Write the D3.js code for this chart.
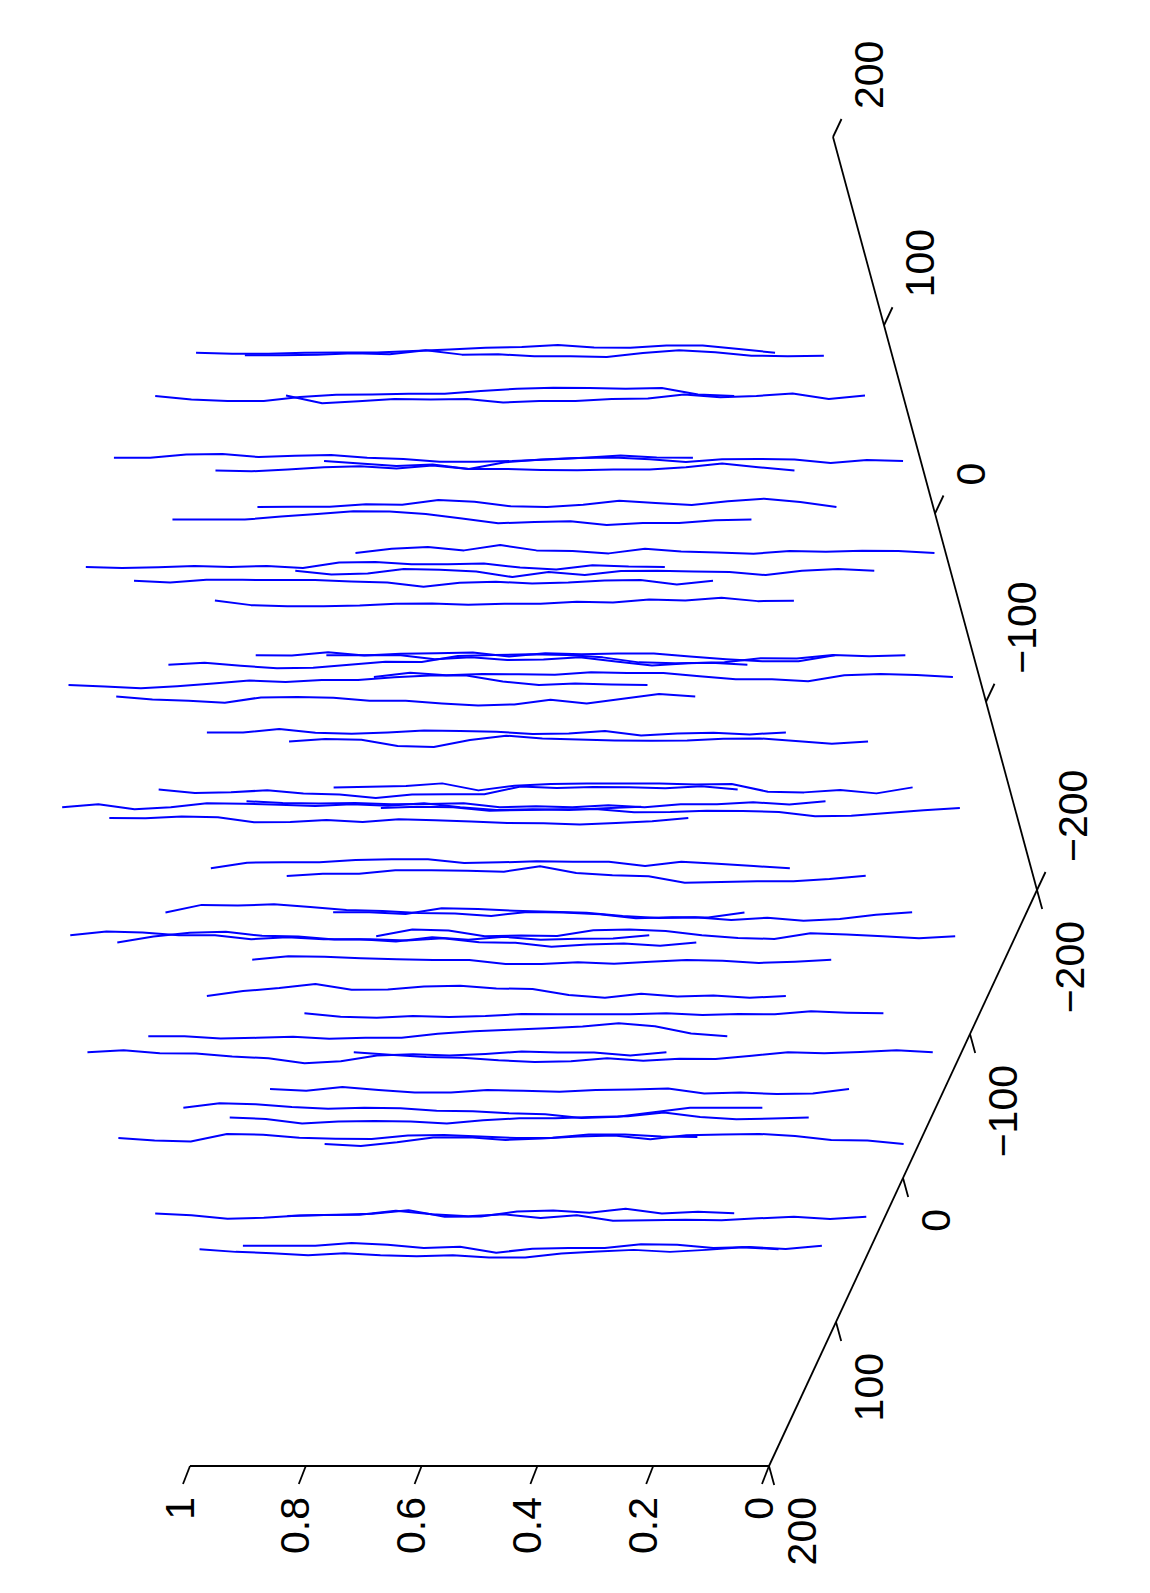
<!DOCTYPE html>
<html>
<head>
<meta charset="utf-8">
<script src="https://cdn.jsdelivr.net/npm/d3@7"></script>
<style>html,body{margin:0;padding:0;background:#fff}svg{display:block}</style>
</head>
<body>
<svg id="chart" width="1150" height="1593"></svg>
<script>
// Height levels shared by every trace (left end of the drawn line = 1, right end = 0)
const zLevels = [1,0.9375,0.875,0.8125,0.75,0.6875,0.625,0.5625,0.5,0.4375,0.375,0.3125,0.25,0.1875,0.125,0.0625,0];
// Ground position of each trace
const traceA = [-90.2,-135.5,-40.6,-164.1,14.1,-78.4,-183.3,-108.7,-25.3,-189.4,68.5,-128.1,26.6,-44.6,-69.2,-135.8,15.6,115,-175.1,72.9,-3.4,-78.6,-108.9,56.7,152.1,-23.2,-148.2,110.5,27.6,-42.1,81.7,-76.5,177.3,134.8,-111,11.9,64,-23.6,129.5,191,-60.2,28.2,114.7,73.5,183.5,-9.3,168.2,44.5,93.8,135.6];
const traceB = [169.4,133.2,184.3,90.1,193.4,115.8,40.7,73.3,130.4,-12.9,177,24.6,137.6,72.5,24.8,-26.2,84.6,149.9,-67.8,111.6,34.1,-28.2,-75.8,49.7,113.6,-17.6,-116.8,75.8,-14.4,-71.6,3.5,-117.4,64.6,28.2,-156.5,-74.9,-54.4,-130.6,-25.6,12.9,-179.3,-131.2,-74.9,-111.7,-37.9,-189,-90,-186.5,-164.2,-134.1];
// Sideways drift of each trace at every height level
const traceSway = [
[0,3,3,0,-1,-1,-5,-10,-15,-17,-23,-16,-15,-22,-22,-11,0],
[-1,-1,-3,-7,-4,-16,-3,-4,2,2,4,-8,-16,-10,0,2,0],
[0,10,15,15,3,-4,-5,-7,-7,-15,-22,-25,-24,-22,-24,-5,0],
[0,23,17,10,12,10,21,16,16,10,9,-3,5,1,-6,10,0],
[0,0,-10,-11,-2,-6,-8,0,4,12,12,10,5,0,-7,-1,0],
[0,2,-3,-10,-13,-6,-15,-5,-5,-2,-1,-3,-3,-10,-21,-10,0],
[0,8,15,11,24,4,-4,-9,-10,-5,3,-5,-6,-4,6,-3,0],
[0,-1,-1,-8,-7,-21,-16,-2,0,-7,-19,-12,-6,-17,-25,-15,0],
[0,0,0,-9,-17,-25,-24,-17,-3,11,7,5,16,10,10,2,0],
[0,-13,-18,-8,-24,-8,-6,1,-13,-5,-2,2,-6,-4,-7,-6,0],
[0,3,1,-3,0,-3,3,-13,-15,-8,-8,-10,2,8,-5,-1,0],
[0,11,8,-5,-3,2,19,4,13,1,0,2,4,13,0,-5,0],
[0,5,-3,-3,-2,-2,2,5,18,6,3,8,5,-1,-2,11,0],
[-1,13,16,16,14,9,8,12,9,9,3,5,-4,-1,-9,1,0],
[0,1,-9,1,-4,-6,-8,4,-6,-3,-5,-5,4,12,18,18,0],
[0,0,-1,12,6,14,13,6,19,31,24,21,9,10,-1,3,0],
[0,-6,3,11,9,0,-9,-8,-26,-29,-31,-29,-22,-7,-4,-6,0],
[0,5,10,4,-4,-13,-9,-15,-15,-23,-28,-28,-10,0,-4,-1,0],
[0,-13,-5,-9,-8,-7,-14,-12,-12,-2,7,7,13,-5,-9,-6,0],
[0,9,13,19,3,2,4,13,13,21,27,24,10,21,7,-7,0],
[0,0,-10,1,4,0,-6,-4,-2,5,3,-4,9,3,1,6,0],
[0,-7,-5,14,17,-4,-17,-9,-6,-3,-2,-3,-8,-9,-1,7,0],
[0,-2,-4,-12,9,-5,-10,-12,-12,-12,-9,-10,13,15,8,18,0],
[0,10,8,2,12,15,25,15,14,14,-9,-5,-8,-7,-4,-10,0],
[2,-7,8,2,-10,-9,-6,-2,-7,-3,-10,2,10,8,10,5,0],
[0,5,7,5,9,8,6,18,15,18,12,18,9,9,3,10,0],
[0,-4,-2,8,6,4,4,13,12,8,9,12,25,23,15,7,0],
[0,1,-4,-2,13,12,6,12,4,7,11,15,16,20,15,10,0],
[0,-17,-18,-18,-25,-27,-27,-16,-18,-21,-20,-20,-7,-20,-14,-7,0],
[1,-6,-6,-16,-16,-15,-12,-28,-8,-1,2,21,19,17,17,10,0],
[0,-23,-21,-25,-17,-8,-5,1,3,10,-2,0,5,17,14,15,0],
[0,0,5,-12,-10,-5,-2,1,11,17,15,23,16,25,20,7,0],
[0,-11,-8,0,0,12,6,12,12,19,6,14,5,14,11,10,0],
[0,-18,-29,-32,-20,-18,-9,-10,-6,-13,-1,1,13,6,3,10,0],
[0,-20,-17,0,-2,-1,-18,-20,-16,-3,5,8,-9,-5,0,6,0],
[0,-10,-9,-4,-1,1,1,13,13,8,12,6,1,3,10,6,0],
[0,-15,-24,-36,-19,-20,-29,-31,-23,-21,-3,5,-7,1,-2,5,0],
[0,10,13,8,11,8,2,3,3,3,0,5,2,3,-6,-2,0],
[0,0,7,5,2,8,5,5,-7,-15,-19,-24,-29,-39,-30,-8,0],
[0,-6,3,4,13,18,33,27,10,6,10,5,-2,1,1,10,0],
[0,7,14,16,24,29,27,18,25,19,20,10,0,3,-1,-6,0],
[0,5,-6,3,10,10,3,5,8,3,1,-2,13,10,15,13,0],
[0,-13,-10,-2,3,0,2,9,11,17,20,31,27,14,0,0,0],
[0,4,18,12,10,12,18,8,2,2,-2,-4,-15,-2,5,3,0],
[3,10,13,-9,-7,2,5,6,-5,-6,-2,3,2,-8,-8,-2,0],
[0,6,-5,-19,-20,-12,-16,-22,-25,-14,-26,-28,-30,-24,-12,-10,0],
[1,6,17,14,7,5,2,-9,11,10,-5,-8,-1,-13,1,-4,0],
[-2,-5,-6,-18,-7,-1,-7,4,-4,12,11,9,11,5,0,7,0],
[0,0,0,-8,-3,7,3,21,9,7,7,-4,-3,7,4,10,0],
[0,8,12,18,12,18,21,18,25,25,13,7,2,8,2,-6,0]
];
// Axis ticks and labels
const aTicks = [-200,-100,0,100,200];
const bTicks = [-200,-100,0,100,200];
const zTicks = [0,0.2,0.4,0.6,0.8,1];
const aLabels = ["\u2212200","\u2212100","0","100","200"];
const bLabels = ["\u2212200","\u2212100","0","100","200"];
const zLabels = ["0","0.2","0.4","0.6","0.8","1"];

// Oblique projection of (A, B, height) on to the page
const aX = d3.scaleLinear([-200,200],[1037,769]);
const aY = d3.scaleLinear([-200,200],[890,1466]);
const bX = d3.scaleLinear([-200,200],[0,-204]);
const bY = d3.scaleLinear([-200,200],[0,-753]);
const zX = d3.scaleLinear([0,1],[0,-579]);
const swayY = d3.scaleLinear([0,3],[0,1]);
const projX = (a,b,z) => aX(a)+bX(b)+zX(z);
const projY = (a,b) => aY(a)+bY(b);

const svg = d3.select("#chart");
const line = d3.line().x(d=>d[0]).y(d=>d[1]).curve(d3.curveLinear);

// Traces
svg.append("g").selectAll("path").data(traceSway).join("path")
  .attr("d",(sway,i)=>line(sway.map((s,k)=>[projX(traceA[i],traceB[i],zLevels[k]),projY(traceA[i],traceB[i])+swayY(s)])))
  .attr("fill","none").attr("stroke","#0000ff").attr("stroke-width",2).attr("stroke-linejoin","round");

// Axes
const axes = svg.append("g").attr("fill","none").attr("stroke","#000").attr("stroke-width",1.8);
const seg = (p,q)=>axes.append("path").attr("d",line([p,q]));
seg([projX(200,-200,0),projY(200,-200)],[projX(-200,-200,0),projY(-200,-200)]);
seg([projX(-200,-200,0),projY(-200,-200)],[projX(-200,200,0),projY(-200,200)]);
seg([projX(200,-200,0),projY(200,-200)],[projX(200,-200,1),projY(200,-200)]);
aTicks.forEach(t=>{const x=projX(t,-200,0),y=projY(t,-200);seg([x,y],[x+5.2,y+19]);});
bTicks.forEach(t=>{const x=projX(-200,t,0),y=projY(-200,t);seg([x,y],[x+8.5,y-18]);});
zTicks.forEach(t=>{const x=projX(200,-200,t),y=projY(200,-200);seg([x,y],[x-7,y+18]);});

// Labels: rotated text, reading bottom to top
const labels = svg.append("g").attr("font-family","'Liberation Sans',Arial,Helvetica,sans-serif").attr("font-size",41).attr("fill","#000");
const label = (txt,x,y,anchor)=>labels.append("text").attr("transform",`translate(${x},${y}) rotate(-90)`).attr("text-anchor",anchor).text(txt);
aTicks.forEach((t,i)=>label(aLabels[i],projX(t,-200,0)+47,projY(t,-200)+31,"end"));
bTicks.forEach((t,i)=>label(bLabels[i],projX(-200,t,0)+50,projY(-200,t)-28,"start"));
zTicks.forEach((t,i)=>label(zLabels[i],projX(200,-200,t)+3.5,projY(200,-200)+31,"end"));
</script>
</body>
</html>
